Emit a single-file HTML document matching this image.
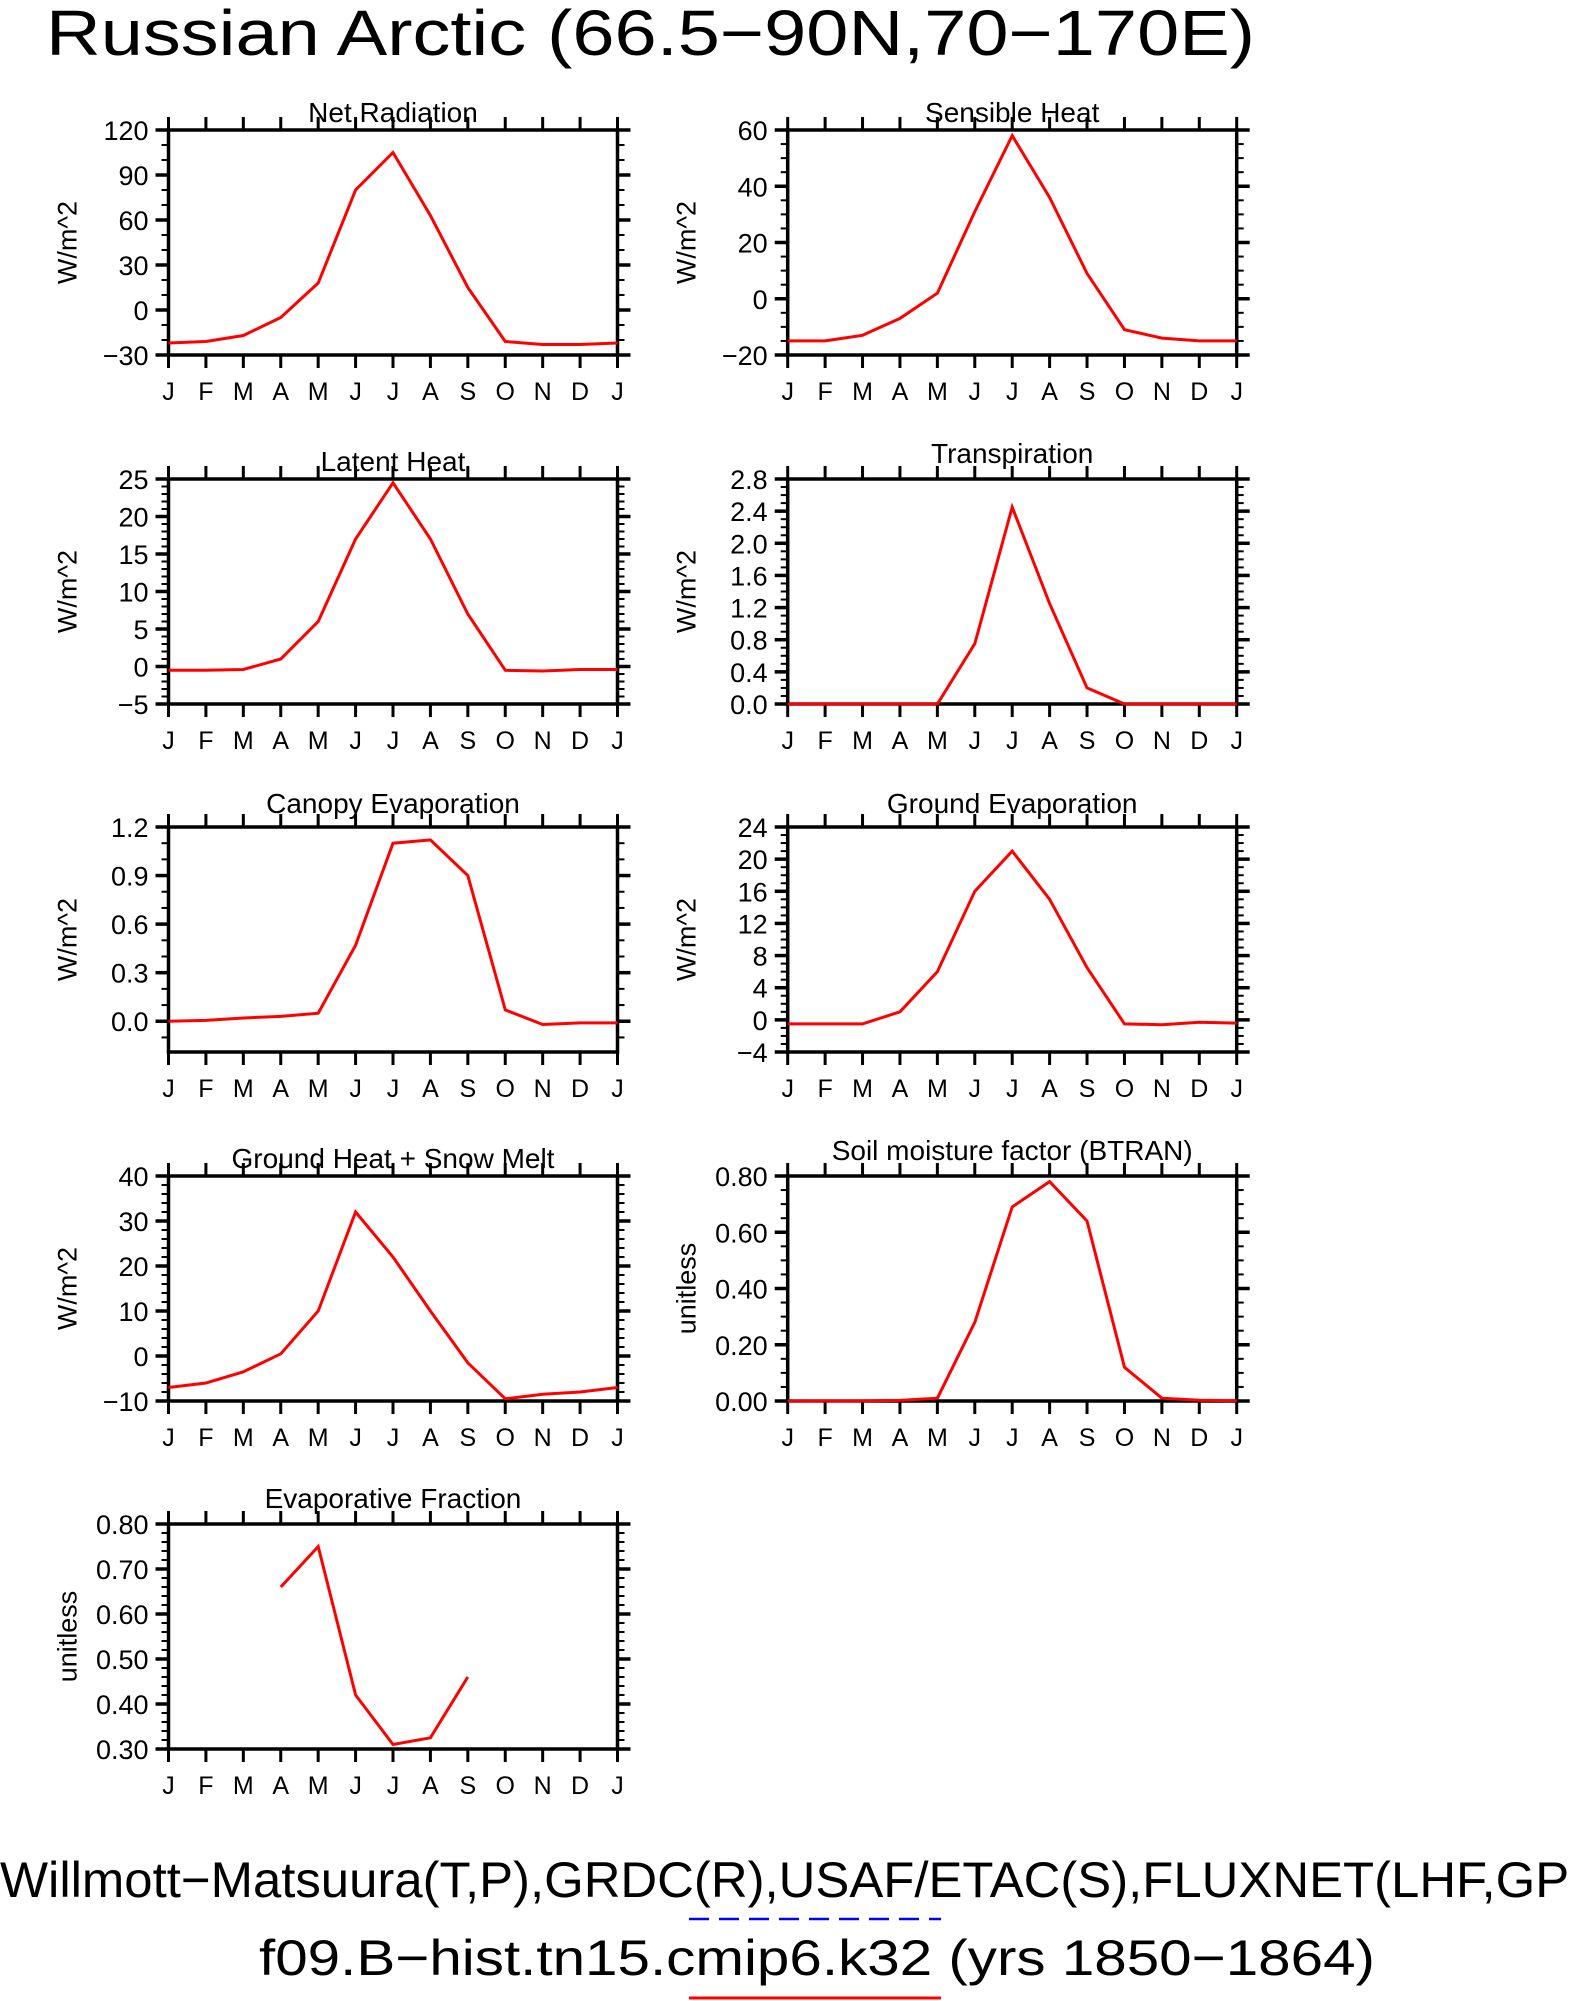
<!DOCTYPE html>
<html><head><meta charset="utf-8">
<style>
html,body{margin:0;padding:0;background:#fff;}
svg{display:block;font-family:"Liberation Sans","DejaVu Sans",sans-serif;}
</style></head>
<body>
<svg id="chart" width="1569" height="2001" viewBox="0 0 1569 2001" xmlns="http://www.w3.org/2000/svg">
<text x="46" y="55" font-size="64" fill="#000" textLength="1209" lengthAdjust="spacingAndGlyphs">Russian Arctic (66.5−90N,70−170E)</text>
<text x="0" y="1897" font-size="50" fill="#000" textLength="1620" lengthAdjust="spacingAndGlyphs">Willmott−Matsuura(T,P),GRDC(R),USAF/ETAC(S),FLUXNET(LHF,GPP)</text>
<line x1="689" y1="1919" x2="941" y2="1919" stroke="#0000ff" stroke-width="2.5" stroke-dasharray="20,10"/>
<text x="259" y="1975" font-size="50" fill="#000" textLength="1116" lengthAdjust="spacingAndGlyphs">f09.B−hist.tn15.cmip6.k32 (yrs 1850−1864)</text>
<line x1="689" y1="1998" x2="941" y2="1998" stroke="#ff0000" stroke-width="3"/>
<g id="panels"></g>
</svg>
<script>
const months = ["J","F","M","A","M","J","J","A","S","O","N","D","J"];
const netRad = [-22,-21,-17,-5,18,80,105,63,15,-21,-23,-23,-22];
const sensible = [-15,-15,-13,-7,2,31,58,36,9,-11,-14,-15,-15];
const latent = [-0.5,-0.5,-0.4,1,6,17,24.5,17,7,-0.5,-0.6,-0.4,-0.4];
const transp = [0,0,0,0,0,0.75,2.45,1.25,0.2,0,0,0,0];
const canopy = [0,0.005,0.02,0.03,0.05,0.47,1.1,1.12,0.9,0.07,-0.02,-0.01,-0.01];
const groundEvap = [-0.5,-0.5,-0.5,1,6,16,21,15,6.5,-0.5,-0.6,-0.3,-0.4];
const groundHeat = [-7,-6,-3.5,0.5,10,32,22,10,-1.5,-9.5,-8.5,-8,-7];
const btran = [0,0,0,0.002,0.01,0.28,0.69,0.78,0.64,0.12,0.01,0.003,0.001];
const evapFrac = [null,null,null,0.66,0.75,0.42,0.31,0.325,0.46,null,null,null,null];

const netRadTicks = ["−30","0","30","60","90","120"];
const sensibleTicks = ["−20","0","20","40","60"];
const latentTicks = ["−5","0","5","10","15","20","25"];
const transpTicks = ["0.0","0.4","0.8","1.2","1.6","2.0","2.4","2.8"];
const canopyTicks = ["0.0","0.3","0.6","0.9","1.2"];
const groundEvapTicks = ["−4","0","4","8","12","16","20","24"];
const groundHeatTicks = ["−10","0","10","20","30","40"];
const btranTicks = ["0.00","0.20","0.40","0.60","0.80"];
const evapFracTicks = ["0.30","0.40","0.50","0.60","0.70","0.80"];

const panels = [
 {name:"net-radiation",title:"Net Radiation",data:netRad,ticks:netRadTicks,t0:-30,step:30,min:-30,max:120,minor:10,unit:"W/m^2",col:0,row:0,th:8},
 {name:"sensible-heat",title:"Sensible Heat",data:sensible,ticks:sensibleTicks,t0:-20,step:20,min:-20,max:60,minor:5,unit:"W/m^2",col:1,row:0,th:8},
 {name:"latent-heat",title:"Latent Heat",data:latent,ticks:latentTicks,t0:-5,step:5,min:-5,max:25,minor:1,unit:"W/m^2",col:0,row:1,th:8},
 {name:"transpiration",title:"Transpiration",data:transp,ticks:transpTicks,t0:0,step:0.4,min:0,max:2.8,minor:0.1,unit:"W/m^2",col:1,row:1,th:16},
 {name:"canopy-evaporation",title:"Canopy Evaporation",data:canopy,ticks:canopyTicks,t0:0,step:0.3,min:-0.19,max:1.2,minor:0.1,unit:"W/m^2",col:0,row:2,th:14},
 {name:"ground-evaporation",title:"Ground Evaporation",data:groundEvap,ticks:groundEvapTicks,t0:-4,step:4,min:-4,max:24,minor:1,unit:"W/m^2",col:1,row:2,th:14},
 {name:"ground-heat-snow-melt",title:"Ground Heat + Snow Melt",data:groundHeat,ticks:groundHeatTicks,t0:-10,step:10,min:-10,max:40,minor:2,unit:"W/m^2",col:0,row:3,th:8},
 {name:"soil-moisture-factor",title:"Soil moisture factor (BTRAN)",data:btran,ticks:btranTicks,t0:0,step:0.2,min:0,max:0.8,minor:0.05,unit:"unitless",col:1,row:3,th:16},
 {name:"evaporative-fraction",title:"Evaporative Fraction",data:evapFrac,ticks:evapFracTicks,t0:0.3,step:0.1,min:0.3,max:0.8,minor:0.02,unit:"unitless",col:0,row:4,th:16}
];
const colX = [168.5,787.7];
const rowY = [130,479,827,1176,1524];
const W = 449, H = 225;
const NS = "http://www.w3.org/2000/svg";
const root = document.getElementById("panels");
function mk(tag, attrs, parent){const e=document.createElementNS(NS,tag);for(const k in attrs)e.setAttribute(k,attrs[k]);parent.appendChild(e);return e;}

panels.forEach(p=>{
  const L=colX[p.col], T=rowY[p.row], R=L+W, B=T+H;
  const xs=i=>L+i*W/12;
  const ys=v=>B-(v-p.min)/(p.max-p.min)*H;
  const g=mk("g",{},root);
  
  
  const startM=Math.ceil(p.min/p.minor-1e-6);
  for(let k=startM;k*p.minor<=p.max+1e-9;k++){
    const y=ys(k*p.minor);
    mk("line",{x1:L-7,x2:L,y1:y,y2:y,stroke:"#000","stroke-width":2},g);
    mk("line",{x1:R,x2:R+7,y1:y,y2:y,stroke:"#000","stroke-width":2},g);
  }
  p.ticks.forEach((lab,i)=>{
    const v=p.t0+i*p.step, y=ys(v);
    mk("line",{x1:L-13,x2:L,y1:y,y2:y,stroke:"#000","stroke-width":3.5},g);
    mk("line",{x1:R,x2:R+13,y1:y,y2:y,stroke:"#000","stroke-width":3.5},g);
    const t=mk("text",{x:L-20,y:y+10,"font-size":27,"text-anchor":"end",fill:"#000"},g);
    t.textContent=lab;
    
    
  });
  months.forEach((m,i)=>{
    const x=xs(i);
    mk("line",{x1:x,x2:x,y1:T-13,y2:T,stroke:"#000","stroke-width":3},g);
    mk("line",{x1:x,x2:x,y1:B,y2:B+13,stroke:"#000","stroke-width":3},g);
    const t=mk("text",{x:x,y:B+45,"font-size":25,"text-anchor":"middle",fill:"#000"},g);
    t.textContent=m;
    
    
  });
  const fr=mk("rect",{x:L,y:T,width:W,height:H,fill:"none",stroke:"#000","stroke-width":3.5},g);
  
  
  let segs=[],cur=[];
  p.data.forEach((v,i)=>{if(v===null){if(cur.length)segs.push(cur);cur=[];}else cur.push(xs(i).toFixed(1)+","+ys(v).toFixed(1));});
  if(cur.length)segs.push(cur);
  segs.forEach(s=>{
    const pl=mk("polyline",{points:s.join(" "),fill:"none",stroke:"#ff0000","stroke-width":3,"stroke-linejoin":"miter"},g);
    
    
  });
  const tt=mk("text",{x:L+W/2,y:T-p.th,"font-size":28,"text-anchor":"middle",fill:"#000"},g);
  tt.textContent=p.title;
  
  
  const lx=L-92, ly=T+H/2;
  const yl=mk("text",{x:lx,y:ly,"font-size":27,"text-anchor":"middle",fill:"#000",transform:"rotate(-90 "+lx+" "+ly+")"},g);
  yl.textContent=p.unit;
  
  
});
</script>
</body></html>
